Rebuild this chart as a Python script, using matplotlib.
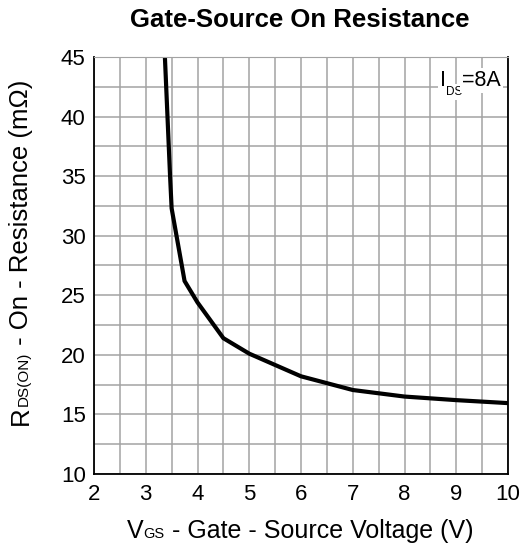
import numpy as np
import matplotlib
matplotlib.use("Agg")
import matplotlib.pyplot as plt
from matplotlib.transforms import IdentityTransform

plt.rcParams["font.family"] = ["Liberation Sans", "DejaVu Sans"]

# Gate-source voltage (V) vs on-resistance (mOhm), I_DS = 8A
vgs = [3.37, 3.42, 3.47, 3.5, 3.75, 4.0, 4.5, 5.0, 6.0, 7.0, 8.0, 9.0, 10.0]
rds = [45.0, 40.0, 35.0, 32.3, 26.2, 24.4, 21.4, 20.1, 18.2, 17.05, 16.5, 16.2, 15.95]

x_ticks = [2, 3, 4, 5, 6, 7, 8, 9, 10]
y_ticks = [10, 15, 20, 25, 30, 35, 40, 45]

W, H = 522, 551


def pieces_text(fig, x, y, pieces, rotation=0, center=False, **kw):
    # pieces: (text, size, baseline drop in px); x, y in pixels from top-left
    r = fig.canvas.get_renderer()
    widths = []
    for txt, size, _ in pieces:
        t = fig.text(0, 0, txt, fontsize=size, **kw)
        w, _, _ = r.get_text_width_height_descent(txt, t.get_fontproperties(), ismath=False)
        t.remove()
        widths.append(w)
    pos = -sum(widths) / 2 if center else 0
    for (txt, size, dy), w in zip(pieces, widths):
        if rotation == 0:
            fig.text(x + pos, H - y - dy, txt, fontsize=size, ha="left", va="baseline",
                     transform=IdentityTransform(), **kw)
        else:
            fig.text(x + dy, H - y + pos, txt, fontsize=size, ha="left", va="baseline",
                     rotation=90, rotation_mode="anchor", transform=IdentityTransform(), **kw)
        pos += w


def main():
    fig = plt.figure(figsize=(W / 100, H / 100), dpi=100)
    ax = fig.add_axes([94 / W, 1 - 474 / H, 414 / W, 417 / H])

    ax.set_xlim(2, 10)
    ax.set_ylim(10, 45)
    ax.set_xticks(x_ticks)
    ax.set_yticks(y_ticks)
    ax.set_xticks(np.arange(2, 10.01, 0.5), minor=True)
    ax.set_yticks(np.arange(10, 45.01, 2.5), minor=True)
    ax.grid(which="both", color="#a3a3a3", linewidth=1.1)
    ax.set_axisbelow(True)
    ax.tick_params(which="both", length=0, labelsize=16)
    ax.tick_params(axis="x", pad=7)
    ax.tick_params(axis="y", pad=6)

    for s in ["left", "bottom", "right"]:
        ax.spines[s].set_color("black")
        ax.spines[s].set_linewidth(1.3)
    ax.spines["top"].set_color("#a3a3a3")

    ax.plot(vgs, rds, color="black", linewidth=3.0, solid_joinstyle="miter")

    # I_DS=8A label, upper right
    box = dict(facecolor="white", edgecolor="none", pad=1.5)
    pieces_text(fig, 440, 86, [("I", 15.5, 0), ("DS", 8.5, 9), ("=8A", 15.5, 0)], bbox=box)

    # axis labels with same-baseline small subscripts
    pieces_text(fig, 300, 538, [("V", 18, 0), ("GS", 10.5, 0),
                                (" - Gate - Source Voltage (V)", 18, 0)], center=True)
    pieces_text(fig, 28, 252, [("R", 18.5, 0), ("DS(ON)", 11, 0),
                               (" - On - Resistance (m\u03a9)", 18.5, 0)], rotation=90, center=True)

    fig.text(300 / W, 1 - 27 / H, "Gate-Source On Resistance", fontsize=18.5, fontweight="bold",
             ha="center", va="baseline")

    plt.savefig("out.png", dpi=100)


if __name__ == "__main__":
    main()
